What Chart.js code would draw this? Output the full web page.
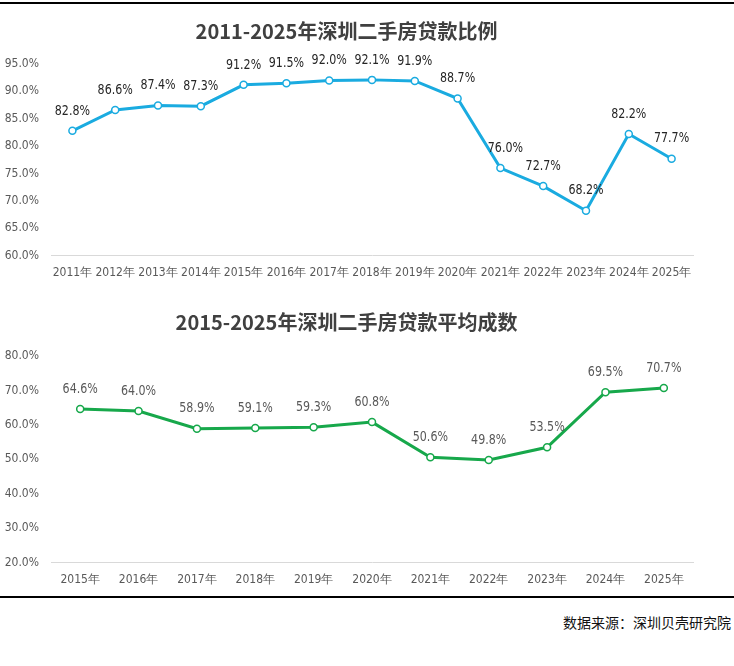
<!DOCTYPE html>
<html>
<head>
<meta charset="utf-8">
<script src="https://cdn.jsdelivr.net/npm/chart.js@4.4.1/dist/chart.umd.min.js"></script>
<style>
  html, body { margin: 0; padding: 0; background: #fff; }
  body { width: 734px; height: 666px; position: relative; overflow: hidden; }
  .rule { position: absolute; left: 0; width: 734px; background: #000; }
  .box { position: absolute; left: 0; width: 734px; }
  .source {
    position: absolute; right: 3px; top: 612px;
    font: 14px "Noto Sans CJK SC", sans-serif; color: #111;
  }
</style>
</head>
<body>
<div class="rule" style="top:2px;height:2px"></div>
<div class="box" style="top:0;height:286px"><canvas id="ratioChart"></canvas></div>
<div class="box" style="top:290px;height:303px"><canvas id="avgChart"></canvas></div>
<div class="rule" style="top:596px;height:1.5px"></div>
<div class="source">数据来源：深圳贝壳研究院</div>

<script>
// loan ratio, 2011-2025
const ratioYears = ['2011年','2012年','2013年','2014年','2015年','2016年','2017年','2018年','2019年','2020年','2021年','2022年','2023年','2024年','2025年'];
const ratioValues = [82.8, 86.6, 87.4, 87.3, 91.2, 91.5, 92.0, 92.1, 91.9, 88.7, 76.0, 72.7, 68.2, 82.2, 77.7];

// average loan-to-value, 2015-2025
const avgYears = ['2015年','2016年','2017年','2018年','2019年','2020年','2021年','2022年','2023年','2024年','2025年'];
const avgValues = [64.6, 64.0, 58.9, 59.1, 59.3, 60.8, 50.6, 49.8, 53.5, 69.5, 70.7];

const narrow = '"Liberation Sans Narrow", "DejaVu Sans Condensed", "Liberation Sans", sans-serif';

// value labels above each point (squeezed a bit, the original uses a narrow face)
const pointLabels = {
    id: 'pointLabels',
    afterDatasetsDraw(chart, args, opts) {
        const ctx = chart.ctx;
        const meta = chart.getDatasetMeta(0);
        const values = chart.data.datasets[0].data;
        meta.data.forEach((pt, i) => {
            const dx = (opts.shift && opts.shift[i]) || 0;
            ctx.save();
            ctx.font = '14.5px ' + narrow;
            ctx.fillStyle = opts.color || '#404040';
            ctx.textAlign = 'center';
            ctx.textBaseline = 'middle';
            ctx.translate(pt.x + dx, pt.y - 20);
            ctx.scale(0.85, 1);
            ctx.fillText(values[i].toFixed(1) + '%', 0, 0);
            ctx.restore();
        });
    }
};

function makeChart(id, title, labels, values, color, yMin, yMax, step, labelColor, shift, titlePad) {
    return new Chart(document.getElementById(id), {
        type: 'line',
        data: {
            labels: labels,
            datasets: [{
                data: values,
                borderColor: color,
                borderWidth: 3,
                backgroundColor: '#fff',
                pointBackgroundColor: '#fff',
                pointBorderColor: color,
                pointBorderWidth: 1.5,
                pointRadius: 3.5,
                tension: 0,
                fill: false
            }]
        },
        options: {
            responsive: true,
            maintainAspectRatio: false,
            animation: false,
            layout: { padding: { left: 0, right: 41, bottom: 4 } },
            scales: {
                y: {
                    min: yMin,
                    max: yMax,
                    afterFit: s => { s.width = 51; },
                    ticks: {
                        stepSize: step,
                        padding: 4,
                        color: '#595959',
                        font: { size: 12, family: narrow },
                        callback: v => v.toFixed(1) + '%'
                    },
                    grid: { display: false },
                    border: { display: false }
                },
                x: {
                    offset: true,
                    ticks: {
                        autoSkip: false,
                        maxRotation: 0,
                        padding: 2,
                        color: '#595959',
                        font: { size: 12, family: narrow }
                    },
                    grid: { display: false },
                    border: { display: true, color: '#d9d9d9', width: 1 }
                }
            },
            plugins: {
                legend: { display: false },
                tooltip: { enabled: false },
                title: {
                    display: true,
                    text: title,
                    color: '#404040',
                    font: { size: 20, weight: 'bold', family: '"Noto Sans CJK SC", sans-serif' },
                    padding: titlePad
                },
                pointLabels: { color: labelColor, shift: shift }
            }
        },
        plugins: [pointLabels]
    });
}

const ratioShift = ratioValues.map(() => 0);
ratioShift[10] = 5;

makeChart('ratioChart', '2011-2025年深圳二手房贷款比例', ratioYears, ratioValues,
    '#1aabe0', 60, 95, 5, '#262626', ratioShift, { top: 19, bottom: 21 });
makeChart('avgChart', '2015-2025年深圳二手房贷款平均成数', avgYears, avgValues,
    '#17a84b', 20, 80, 10, '#595959', null, { top: 20, bottom: 22 });
</script>
</body>
</html>
